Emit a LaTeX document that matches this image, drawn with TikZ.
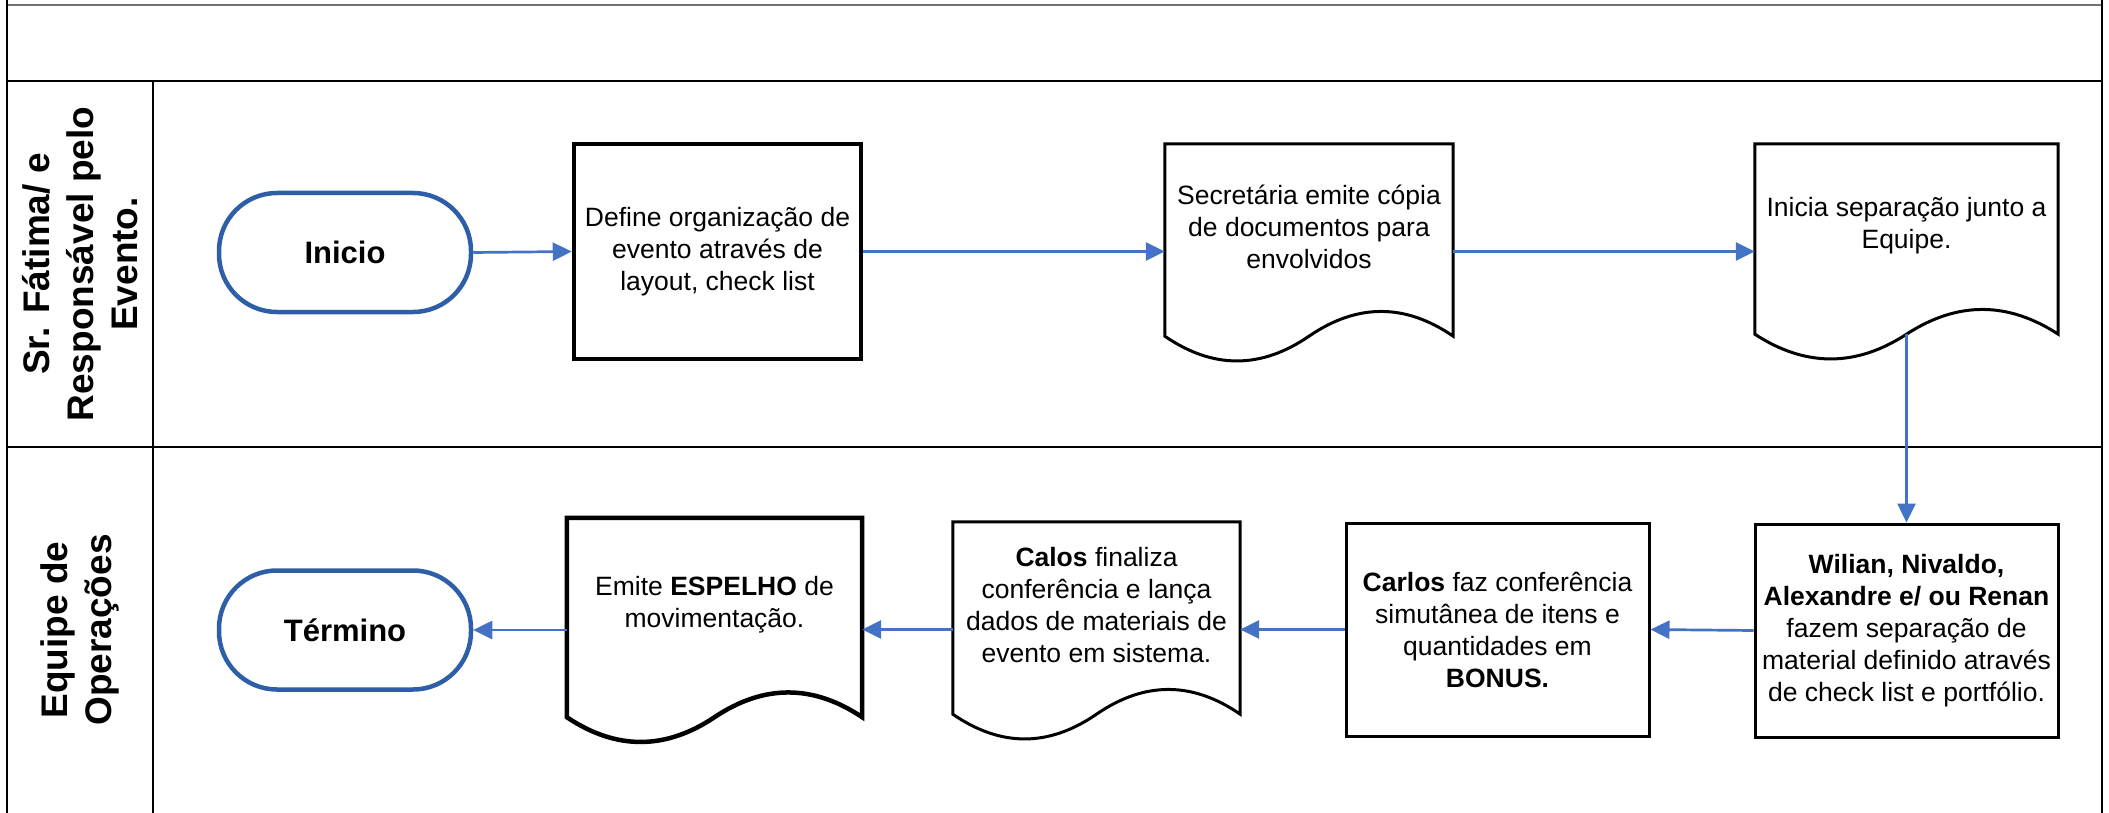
\documentclass[tikz,border=0pt]{standalone}
\usepackage{fontspec}
\setmainfont{Liberation Sans}
\usetikzlibrary{arrows.meta,calc}
\definecolor{termblue}{HTML}{2E5EA8}
\definecolor{arrblue}{HTML}{4472C4}
\newcommand\docoutline[2]{%
  \draw[#2] (#1.south west) -- (#1.north west) -- (#1.north east) -- (#1.south east)
    .. controls ($(#1.south east)!0.167!(#1.south west)+(0,-33)$) and ($(#1.south east)!0.333!(#1.south west)+(0,-33)$) .. (#1.south)
    .. controls ($(#1.south east)!0.667!(#1.south west)+(0,33)$) and ($(#1.south east)!0.833!(#1.south west)+(0,33)$) .. (#1.south west) -- cycle;}
\tikzset{
  frameline/.style={line width=1.5pt, black},
  termbox/.style={draw=termblue, line width=4.5pt, rounded corners=58pt, fill=white,
    minimum width=252pt, minimum height=119pt, inner sep=0pt,
    font=\fontsize{31}{36}\selectfont\bfseries},
  procbox/.style={draw=black, fill=white, inner sep=0pt, align=center,
    line width=3pt, font=\fontsize{26.5}{32}\selectfont},
  docarea/.style={inner sep=0pt, draw=none},
  docline/.style={draw=black, fill=white, line width=3pt},
  doctext/.style={align=center, inner sep=0pt, font=\fontsize{26.5}{32}\selectfont},
  arr/.style={draw=arrblue, line width=2.7pt, -{Triangle[length=19pt,width=18pt]}},
  lanelabel/.style={rotate=90, align=center, font=\fontsize{37}{44}\selectfont\bfseries}
}
\begin{document}
\begin{tikzpicture}[x=1pt,y=-1pt]
\useasboundingbox (0,0) rectangle (2109,813);
% frame
\draw[line width=1.5pt, black!55] (7,5) -- (2102,5);
\draw[frameline] (7,0) -- (7,813);
\draw[frameline] (2102,0) -- (2102,813);
\draw[frameline] (7,81) -- (2102,81);
\draw[frameline] (153,81) -- (153,813);
\draw[frameline] (7,447) -- (2102,447);
% lane labels
\node[lanelabel] (lane1) at (80,264) {Sr. Fátima/ e\\Responsável pelo\\Evento.};
\node[lanelabel] (lane2) at (80,630) {Equipe de\\Operações};
% lane 1
\node[termbox] (inicio) at (345,252.5) {Inicio};
\node[procbox, line width=4.5pt, minimum width=287pt, minimum height=215pt] (def) at (717.5,251.5)
  {Define organização de\\evento através de\\layout, check list};
\node[docarea, minimum width=288pt, minimum height=192pt] (sec) at (1309,240) {};
\docoutline{sec}{docline}
\node[doctext] (sect) at (1309,227) {Secretária emite cópia\\de documentos para\\envolvidos};
\node[docarea, minimum width=303pt, minimum height=190pt] (ini) at (1906.5,239) {};
\docoutline{ini}{docline}
\node[doctext] (init) at (1906.5,226) {Inicia separação junto a\\Equipe.};
% lane 2
\node[procbox, minimum width=303pt, minimum height=213pt] (wil) at (1906.5,630.5)
  {\textbf{Wilian, Nivaldo,}\\\textbf{Alexandre e/ ou Renan}\\fazem separação de\\material definido através\\de check list e portfólio.};
\node[procbox, minimum width=303pt, minimum height=213pt] (car) at (1497.5,629.5)
  {\textbf{Carlos} faz conferência\\simutânea de itens e\\quantidades em\\\textbf{BONUS.}};
\node[docarea, minimum width=287pt, minimum height=192pt] (cal) at (1096.5,618) {};
\docoutline{cal}{docline}
\node[doctext] (calt) at (1096.5,605) {\textbf{Calos} finaliza\\conferência e lança\\dados de materiais de\\evento em sistema.};
\node[docarea, minimum width=295pt, minimum height=199pt] (emi) at (714.5,617.5) {};
\docoutline{emi}{docline, line width=4.5pt}
\node[doctext] (emit) at (714.5,605) {Emite \textbf{ESPELHO} de\\movimentação.};
\node[termbox] (term) at (345,630) {Término};
% connectors
\draw[arr] (inicio.east) -- (def.west);
\draw[arr] (def.east) -- (sec.west |- def.east);
\draw[arr] (sec.east |- def.east) -- (ini.west |- def.east);
\draw[arr] (ini.south) -- (wil.north);
\draw[arr] (wil.west) -- (car.east);
\draw[arr] (car.west) -- (cal.east |- car.west);
\draw[arr] (cal.west |- car.west) -- (emi.east |- car.west);
\draw[arr] (emi.west |- term.east) -- (term.east);
\end{tikzpicture}
\end{document}
